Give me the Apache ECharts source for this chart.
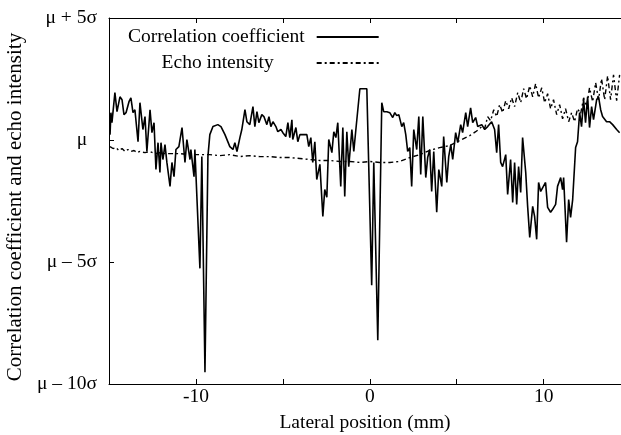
<!DOCTYPE html>
<html><head><meta charset="utf-8">
<script src="https://cdn.jsdelivr.net/npm/echarts/dist/echarts.min.js"></script>
<style>html,body{margin:0;padding:0;background:#fff}#c{width:621px;height:435px}</style>
</head><body><div id="c"></div><script>
// Lateral position (mm) and value in units of sigma relative to mu
const corrX = [-14.94,-14.89,-14.83,-14.66,-14.54,-14.37,-14.25,-14.14,-14.02,-13.85,-13.74,-13.62,-13.51,-13.33,-13.22,-13.05,-12.93,-12.82,-12.64,-12.53,-12.41,-12.30,-12.18,-12.07,-12.01,-11.90,-11.78,-11.67,-11.49,-11.38,-11.26,-11.15,-10.98,-10.80,-10.63,-10.52,-10.34,-10.29,-10.11,-10.06,-9.77,-9.66,-9.48,-9.31,-9.20,-9.02,-8.91,-8.74,-8.56,-8.45,-8.33,-8.22,-8.05,-7.87,-7.76,-7.64,-7.47,-7.36,-7.18,-7.07,-6.90,-6.72,-6.61,-6.49,-6.38,-6.21,-6.09,-5.92,-5.80,-5.69,-5.57,-5.40,-5.29,-5.11,-5.00,-4.83,-4.71,-4.60,-4.48,-4.43,-4.25,-4.14,-4.02,-3.85,-3.62,-3.51,-3.39,-3.28,-3.16,-3.05,-2.87,-2.70,-2.59,-2.47,-2.36,-2.18,-2.07,-1.95,-1.84,-1.67,-1.55,-1.44,-1.32,-1.21,-1.03,-0.92,-0.80,-0.57,-0.17,0.11,0.23,0.34,0.46,0.69,0.80,0.98,1.15,1.32,1.44,1.55,1.67,1.84,1.95,2.07,2.18,2.30,2.41,2.53,2.70,2.82,2.93,3.05,3.22,3.33,3.45,3.56,3.68,3.85,3.97,4.14,4.25,4.43,4.54,4.66,4.77,4.94,5.06,5.23,5.34,5.52,5.63,5.80,5.92,6.09,6.21,6.44,6.61,6.78,7.01,7.18,7.30,7.41,7.53,7.64,7.82,7.93,8.10,8.22,8.33,8.45,8.56,8.68,8.79,8.97,9.08,9.20,9.37,9.48,9.60,9.71,9.83,9.94,10.11,10.23,10.40,10.52,10.69,10.80,10.98,11.09,11.15,11.32,11.44,11.55,11.67,11.84,11.95,12.07,12.18,12.30,12.41,12.53,12.64,12.76,12.87,13.05,13.16,13.28,13.39,13.62,13.79,13.97,14.20,14.37];
const corrY = [0.22,1.12,0.71,1.94,1.16,1.77,1.65,1.04,1.12,1.57,1.73,1.12,1.24,-0.07,1.53,0.43,0.96,-0.47,1.24,0.30,0.71,-1.21,-0.11,-1.33,-0.11,-0.80,-0.19,-0.92,-1.90,-0.92,-1.50,-0.39,-0.27,0.51,-0.92,0.02,-0.80,-0.39,-1.50,-0.39,-5.26,-0.68,-9.52,-0.68,0.22,0.55,0.47,0.63,0.55,0.63,0.22,0.30,-0.27,-0.39,-0.11,-0.47,0.10,0.43,1.24,0.75,0.63,1.37,0.55,1.16,0.71,1.04,0.96,0.63,0.96,0.55,0.75,0.55,0.34,0.43,0.30,0.14,0.71,0.10,0.83,0.02,0.51,-0.07,0.22,0.22,0.22,-0.27,0.10,-0.92,-0.07,-1.62,-1.00,-3.13,-2.03,-2.35,0.02,-0.52,0.34,0.10,0.71,-1.90,0.51,-2.31,0.34,-1.09,0.43,-0.47,0.43,2.10,2.10,-5.95,-0.92,-0.92,-8.21,1.53,1.16,1.16,1.12,0.92,1.12,1.00,1.04,0.55,0.71,0.22,-0.47,-0.31,-1.90,0.43,-0.39,0.96,-1.41,0.96,-1.54,-0.72,-0.39,-2.11,-0.47,-2.96,-1.21,-1.90,0.14,-1.74,-0.68,-0.19,-0.80,0.30,-0.11,0.63,0.30,1.12,0.55,1.32,0.71,0.92,0.55,0.63,0.43,0.55,0.75,0.43,-0.52,0.63,-0.92,-1.09,-0.60,-2.23,-0.80,-2.56,-0.92,-2.64,-1.09,-2.15,0.10,-1.33,-2.72,-3.99,-2.72,-3.13,-4.07,-1.74,-2.11,-2.15,-1.74,-2.76,-2.96,-2.84,-2.64,-1.90,-1.54,-2.03,-1.54,-4.19,-2.44,-3.17,-2.44,-0.31,-0.07,1.12,0.55,1.65,0.71,1.77,0.51,1.37,0.83,1.65,1.77,1.24,0.96,0.75,0.75,0.63,0.43,0.30];
const echoX = [-14.94,-14.77,-14.60,-14.43,-14.25,-14.08,-13.91,-13.74,-13.56,-13.39,-13.22,-12.93,-12.64,-12.36,-12.07,-11.78,-11.49,-10.92,-10.34,-9.77,-9.20,-8.62,-8.05,-7.47,-6.90,-6.32,-5.75,-5.17,-4.60,-4.02,-3.45,-2.87,-2.30,-1.72,-1.15,-0.57,0,0.57,1.15,1.72,2.30,2.87,3.45,4.02,4.60,5.17,5.75,6.09,6.26,6.44,6.61,6.78,6.95,7.13,7.30,7.47,7.64,7.82,7.99,8.16,8.33,8.51,8.68,8.85,9.02,9.20,9.37,9.54,9.71,9.89,10.06,10.23,10.40,10.57,10.75,10.92,11.09,11.26,11.44,11.61,11.78,11.95,12.13,12.30,12.47,12.64,12.82,12.99,13.16,13.33,13.51,13.68,13.85,14.02,14.20,14.37];
const echoY = [-0.27,-0.35,-0.31,-0.43,-0.35,-0.47,-0.39,-0.47,-0.43,-0.52,-0.47,-0.52,-0.47,-0.56,-0.52,-0.56,-0.56,-0.56,-0.60,-0.60,-0.60,-0.64,-0.60,-0.68,-0.64,-0.68,-0.68,-0.72,-0.72,-0.76,-0.80,-0.84,-0.84,-0.88,-0.88,-0.92,-0.88,-0.92,-0.92,-0.88,-0.72,-0.60,-0.43,-0.31,-0.23,-0.02,0.18,0.34,0.43,0.55,0.47,0.96,0.79,1.24,0.96,1.45,1.12,1.61,1.28,1.73,1.37,1.94,1.53,2.10,1.69,2.22,1.77,2.31,1.73,2.14,1.53,1.90,1.28,1.65,1.04,1.45,0.87,1.28,0.75,1.12,0.75,1.28,1.08,1.73,1.37,2.14,1.57,2.35,1.65,2.51,1.65,2.63,1.65,2.67,1.61,2.67];
const xTickLabels = {'-10':'-10','0':'0','10':'10'};
const yTickLabels = {'5':'μ + 5σ','0':'μ\u2002','-5':'μ – 5σ','-10':'μ – 10σ'};
const seriesNames = ['Correlation coefficient','Echo intensity'];

const FONT = 'Liberation Serif';
const FS = 19.5;
const chart = echarts.init(document.getElementById('c'), null, {renderer:'canvas'});
const zip = (xs, ys) => xs.map((x, i) => [x, ys[i]]);
const axisCommon = {
  min: -15, max: 14.45, interval: 5,
  axisLine: {show: true, onZero: false, lineStyle: {color: '#000', width: 1}},
  axisTick: {show: true, inside: true, length: 5, lineStyle: {color: '#000'}},
  splitLine: {show: false}
};
chart.setOption({
  animation: false,
  backgroundColor: '#fff',
  grid: {left: 109, right: 0, top: 18, bottom: 51, containLabel: false, outerBoundsMode: 'none'},
  legend: {
    orient: 'vertical', left: 128, top: 27, align: 'right', padding: 0,
    itemWidth: 62, itemHeight: 14, itemGap: 6,
    selectedMode: false,
    itemStyle: {opacity: 0, borderWidth: 0},
    textStyle: {fontFamily: FONT, fontSize: FS, color: '#000',
      rich: {
        c: {fontFamily: FONT, fontSize: FS, color: '#000', lineHeight: 20, padding: [0, 7, 0, 0]},
        e: {fontFamily: FONT, fontSize: FS, color: '#000', lineHeight: 20, padding: [0, 38, 0, 0]}
      }},
    formatter: n => n === seriesNames[1] ? '{e|' + n + '}' : '{c|' + n + '}',
    data: seriesNames
  },
  xAxis: [
    Object.assign({}, axisCommon, {
      type: 'value', position: 'bottom',
      name: 'Lateral position (mm)', nameLocation: 'middle', nameGap: 29,
      nameTextStyle: {fontFamily: FONT, fontSize: FS, color: '#000'},
      axisLabel: {show: true, margin: 3, fontFamily: FONT, fontSize: FS, color: '#000',
        showMaxLabel: false, showMinLabel: false,
        formatter: v => xTickLabels[String(Math.round(v))] || ''}
    }),
    Object.assign({}, axisCommon, {
      type: 'value', position: 'top', axisLabel: {show: false}
    })
  ],
  yAxis: {
    type: 'value', min: -10, max: 5, interval: 5,
    name: 'Correlation coefficient and echo intensity', nameLocation: 'middle', nameGap: 76,
    nameTextStyle: {fontFamily: FONT, fontSize: 21, color: '#000', padding: [0, 12, 0, 0]},
    axisLine: {show: true, onZero: false, lineStyle: {color: '#000', width: 1}},
    axisTick: {show: true, inside: true, length: 5, lineStyle: {color: '#000'}},
    splitLine: {show: false},
    axisLabel: {margin: 12, fontFamily: FONT, fontSize: FS, color: '#000',
      formatter: v => yTickLabels[String(Math.round(v))] || ''}
  },
  series: [
    {name: seriesNames[0], type: 'line', data: zip(corrX, corrY), symbol: 'none', showSymbol: false,
     lineStyle: {color: '#000', width: 1.6}, itemStyle: {color: '#000'}},
    {name: seriesNames[1], type: 'line', data: zip(echoX, echoY), symbol: 'none', showSymbol: false,
     lineStyle: {color: '#000', width: 1.4, type: [5, 3, 2, 3]}, itemStyle: {color: '#000'}}
  ]
});
</script></body></html>
